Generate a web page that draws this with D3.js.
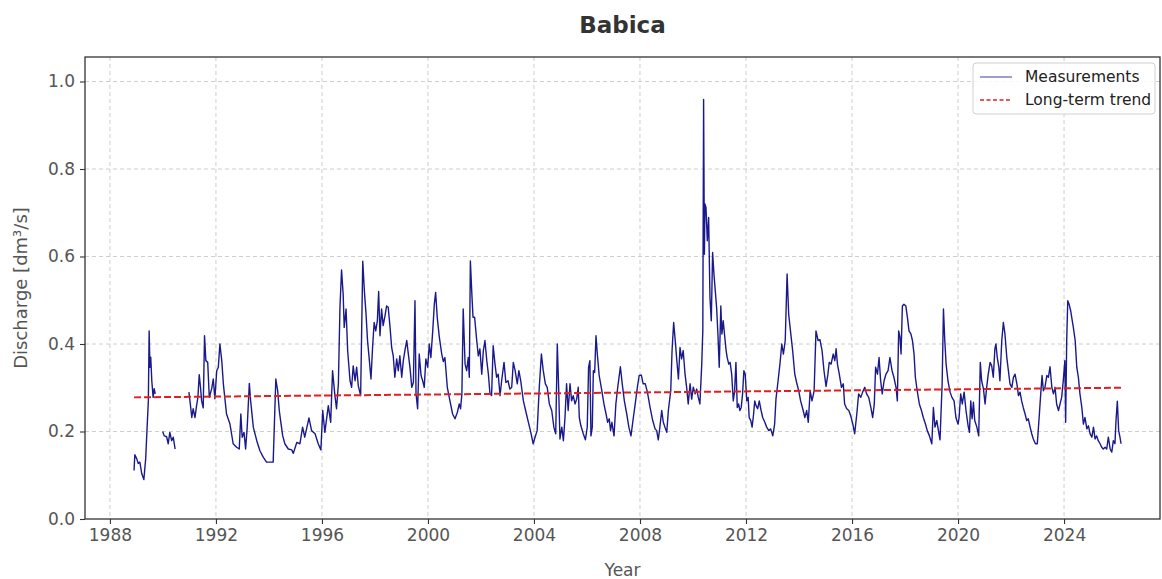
<!DOCTYPE html>
<html>
<head>
<meta charset="utf-8">
<script src="https://cdn.jsdelivr.net/npm/d3@7"></script>
<style>
  body { margin: 0; background: #fff; }
  svg { display: block; font-family: "DejaVu Sans", sans-serif; }
</style>
</head>
<body>
<svg id="chart" width="1162" height="579"></svg>
<script>
const chartTitle = "Babica";
const xLabel = "Year";
const yLabel = "Discharge [dm³/s]";
const legendLabels = ["Measurements", "Long-term trend"];

// decimal years; null marks a gap in the record
const years = [
  1988.91,1988.94,1989.01,1989.07,1989.13,1989.20,1989.28,1989.35,1989.38,1989.45,
  1989.48,1989.51,1989.54,1989.58,1989.63,1989.67,1989.71,
  1989.85,
  1989.99,1990.05,1990.14,1990.20,1990.26,1990.33,1990.39,1990.46,
  1990.70,
  1990.98,1991.02,1991.09,1991.14,1991.21,1991.27,1991.32,1991.37,1991.42,1991.46,
  1991.52,1991.57,1991.62,1991.69,1991.75,1991.84,1991.90,1991.96,1992.03,1992.09,
  1992.15,1992.22,1992.28,1992.40,1992.53,1992.65,1992.78,1992.88,1992.94,1992.99,
  1993.06,1993.12,1993.18,1993.26,1993.31,1993.41,1993.54,1993.66,1993.79,1993.91,
  1994.16,1994.26,1994.33,1994.39,1994.44,1994.52,1994.60,1994.73,1994.86,1994.92,
  1995.05,1995.17,1995.27,1995.35,1995.42,1995.51,1995.61,1995.74,1995.86,1995.96,
  1996.03,1996.11,1996.24,1996.33,1996.40,1996.49,1996.55,1996.62,1996.68,1996.74,
  1996.80,1996.84,1996.91,1996.97,1997.06,1997.12,1997.18,1997.25,1997.31,1997.37,
  1997.46,1997.54,1997.60,1997.66,1997.72,1997.78,1997.85,1997.91,1997.97,1998.03,
  1998.09,1998.14,1998.19,1998.25,1998.31,1998.38,1998.44,1998.50,1998.57,1998.63,
  1998.69,1998.75,1998.82,1998.88,1998.94,1999.01,1999.07,1999.13,1999.20,1999.26,
  1999.32,1999.39,1999.45,1999.51,1999.55,1999.61,1999.67,1999.74,1999.80,1999.86,
  1999.92,1999.99,2000.05,2000.11,2000.18,2000.24,2000.29,2000.35,2000.43,2000.52,
  2000.58,2000.64,2000.73,2000.83,2000.93,2001.02,2001.11,2001.18,2001.23,2001.28,
  2001.33,2001.40,2001.46,2001.52,2001.56,2001.60,2001.65,2001.70,2001.76,2001.84,
  2001.90,2001.96,2002.03,2002.09,2002.15,2002.22,2002.28,2002.34,2002.40,2002.46,
  2002.53,2002.59,2002.65,2002.72,2002.78,2002.87,2002.94,2003.02,2003.09,2003.16,
  2003.22,2003.29,2003.37,2003.43,2003.50,2003.60,2003.70,2003.79,2003.88,2003.97,
  2004.04,2004.12,2004.20,2004.28,2004.35,2004.43,2004.50,2004.58,2004.67,2004.75,
  2004.82,2004.88,2004.93,2004.98,2005.05,2005.11,2005.17,2005.23,2005.29,2005.36,
  2005.42,2005.48,2005.55,2005.61,2005.67,2005.71,2005.77,2005.86,2005.94,2006.01,
  2006.06,2006.11,2006.15,2006.20,2006.24,2006.29,2006.34,2006.39,2006.46,2006.55,
  2006.64,2006.72,2006.78,2006.84,2006.89,2006.94,2007.02,2007.09,2007.16,2007.26,
  2007.33,2007.41,2007.50,2007.58,2007.66,2007.75,2007.82,2007.90,2007.97,2008.05,
  2008.12,2008.20,2008.28,2008.38,2008.48,2008.57,2008.63,2008.69,2008.75,2008.82,
  2008.88,2008.94,2009.01,2009.07,2009.16,2009.21,2009.27,2009.33,2009.39,2009.45,
  2009.51,2009.57,2009.63,2009.70,2009.76,2009.82,2009.89,2009.95,2010.01,2010.08,
  2010.14,2010.20,2010.26,2010.33,2010.37,2010.40,2010.43,2010.45,2010.49,2010.54,
  2010.59,2010.64,2010.69,2010.74,2010.79,2010.84,2010.89,2010.94,2010.99,2011.05,
  2011.09,2011.14,2011.20,2011.25,2011.29,2011.35,2011.40,2011.46,2011.52,2011.57,
  2011.62,2011.67,2011.72,2011.77,2011.82,2011.87,2011.92,2011.97,2012.03,2012.08,
  2012.12,2012.18,2012.23,2012.28,2012.33,2012.38,2012.44,2012.50,2012.57,2012.63,
  2012.71,2012.78,2012.86,2012.93,2013.01,2013.08,2013.13,2013.21,2013.28,2013.35,
  2013.41,2013.48,2013.55,2013.61,2013.69,2013.76,2013.84,2013.91,2013.99,2014.06,
  2014.14,2014.22,2014.29,2014.35,2014.42,2014.49,2014.57,2014.64,2014.72,2014.79,
  2014.87,2014.94,2015.02,2015.09,2015.14,2015.21,2015.29,2015.35,2015.40,2015.45,
  2015.52,2015.60,2015.67,2015.72,2015.80,2015.88,2015.95,2016.03,2016.10,2016.18,
  2016.25,2016.33,2016.40,2016.48,2016.55,2016.63,2016.71,2016.78,2016.84,2016.89,
  2016.96,2017.02,2017.08,2017.14,2017.21,2017.28,2017.36,2017.43,2017.51,2017.58,
  2017.66,2017.71,2017.76,2017.81,2017.85,2017.90,2017.96,2018.03,2018.09,2018.15,
  2018.22,2018.28,2018.34,2018.39,2018.46,2018.54,2018.62,2018.69,2018.77,2018.84,
  2018.92,2019.01,2019.07,2019.13,2019.20,2019.26,2019.32,2019.40,2019.45,2019.50,
  2019.55,2019.62,2019.70,2019.77,2019.85,2019.92,2020.00,2020.04,2020.10,2020.16,
  2020.23,2020.30,2020.38,2020.43,2020.48,2020.53,2020.58,2020.63,2020.71,2020.78,
  2020.84,2020.89,2020.96,2021.02,2021.08,2021.14,2021.21,2021.27,2021.33,2021.39,
  2021.43,2021.48,2021.54,2021.58,2021.65,2021.71,2021.77,2021.84,2021.90,2021.96,
  2022.03,2022.09,2022.15,2022.22,2022.28,2022.34,2022.40,2022.46,2022.53,2022.59,
  2022.65,2022.72,2022.78,2022.84,2022.92,2022.99,2023.06,2023.12,2023.17,2023.22,
  2023.28,2023.35,2023.41,2023.47,2023.54,2023.60,2023.66,2023.72,2023.79,2023.85,
  2023.91,2023.97,2024.03,2024.06,2024.10,2024.14,2024.19,2024.25,2024.30,2024.35,
  2024.42,2024.48,2024.54,2024.60,2024.67,2024.73,2024.79,2024.86,2024.92,2024.98,
  2025.05,2025.11,2025.17,2025.23,2025.29,2025.36,2025.42,2025.48,2025.55,2025.61,
  2025.67,2025.74,2025.80,2025.86,2025.92,2025.96,2026.01,2026.06,2026.11,2026.15
];

const discharge = [
  .111,.147,.138,.127,.130,.104,.090,.138,.179,.270,
  .430,.347,.370,.316,.278,.298,.286,
  null,
  .200,.190,.188,.172,.198,.179,.187,.160,
  null,
  .290,.270,.232,.252,.232,.259,.278,.330,.300,.270,
  .254,.419,.362,.358,.278,.298,.320,.275,.339,.347,
  .400,.362,.309,.240,.217,.172,.164,.160,.240,.187,
  .198,.160,.210,.310,.270,.210,.179,.156,.141,.130,
  .130,.320,.293,.248,.225,.190,.172,.160,.158,.150,
  .175,.172,.210,.187,.206,.231,.202,.195,.172,.158,
  .248,.198,.259,.221,.339,.282,.252,.309,.484,.569,
  .514,.438,.480,.385,.316,.301,.350,.316,.347,.305,
  .282,.589,.522,.472,.408,.369,.320,.392,.449,.430,
  .453,.520,.419,.480,.442,.465,.487,.484,.438,.392,
  .373,.324,.366,.339,.373,.324,.362,.385,.408,.377,
  .347,.301,.312,.499,.286,.252,.377,.328,.316,.301,
  .366,.347,.400,.369,.430,.491,.518,.461,.415,.377,
  .360,.369,.301,.270,.240,.229,.244,.263,.252,.286,
  .480,.354,.339,.369,.324,.590,.522,.461,.461,.408,
  .373,.389,.331,.385,.408,.362,.331,.286,.282,.396,
  .354,.324,.331,.282,.316,.358,.312,.316,.297,.301,
  .358,.339,.309,.339,.316,.270,.244,.221,.198,.172,
  .187,.202,.301,.377,.339,.309,.301,.263,.248,.210,
  .195,.400,.301,.183,.210,.179,.232,.309,.248,.309,
  .270,.282,.263,.274,.301,.232,.213,.195,.181,.210,
  .347,.362,.190,.210,.339,.335,.419,.377,.328,.297,
  .263,.240,.221,.229,.202,.221,.190,.263,.301,.348,
  .309,.270,.240,.210,.190,.232,.263,.301,.328,.329,
  .309,.309,.290,.255,.225,.206,.202,.181,.210,.248,
  .221,.210,.198,.248,.293,.385,.449,.408,.362,.320,
  .392,.366,.385,.331,.301,.263,.309,.274,.301,.286,
  .297,.278,.263,.354,.430,.959,.605,.720,.712,.636,
  .689,.506,.453,.609,.560,.522,.484,.423,.347,.487,
  .423,.453,.415,.385,.369,.354,.358,.331,.270,.293,
  .358,.255,.263,.248,.255,.286,.339,.331,.270,.278,
  .232,.225,.210,.236,.270,.259,.252,.270,.248,.232,
  .221,.210,.202,.206,.190,.217,.274,.316,.354,.400,
  .377,.408,.560,.468,.423,.385,.331,.312,.293,.270,
  .252,.232,.248,.221,.293,.270,.293,.430,.408,.410,
  .385,.340,.303,.331,.358,.354,.377,.362,.389,.354,
  .331,.301,.309,.263,.252,.248,.236,.217,.195,.240,
  .286,.278,.290,.301,.286,.278,.255,.232,.263,.347,
  .331,.369,.316,.286,.316,.331,.339,.369,.339,.324,
  .301,.270,.430,.415,.377,.487,.491,.487,.461,.430,
  .423,.408,.377,.324,.293,.263,.248,.232,.217,.202,
  .190,.172,.255,.210,.225,.202,.181,.309,.480,.408,
  .354,.316,.290,.278,.270,.232,.217,.232,.286,.263,
  .290,.248,.213,.198,.270,.229,.267,.225,.210,.190,
  .358,.316,.297,.263,.301,.331,.358,.350,.324,.389,
  .400,.369,.347,.316,.408,.449,.423,.369,.339,.309,
  .301,.324,.331,.309,.282,.290,.270,.255,.240,.225,
  .229,.210,.195,.183,.172,.172,.232,.286,.328,.293,
  .301,.328,.324,.348,.301,.286,.301,.263,.248,.263,
  .278,.316,.362,.221,.408,.499,.491,.476,.457,.438,
  .408,.347,.324,.286,.255,.217,.232,.206,.213,.195,
  .187,.210,.183,.190,.179,.172,.164,.160,.164,.160,
  .187,.160,.153,.179,.172,.225,.269,.202,.187,.172
];

const trendYears = [1988.91, 2026.15];
const trendValues = [0.278, 0.300];

const xTicks = [1988, 1992, 1996, 2000, 2004, 2008, 2012, 2016, 2020, 2024];
const yTicks = [0, 0.2, 0.4, 0.6, 0.8, 1.0];

const W = 1162, H = 579;
const margin = {top: 57, right: 2, bottom: 60, left: 85};
const iw = W - margin.left - margin.right;
const ih = H - margin.top - margin.bottom;

const svg = d3.select("#chart");

const x = d3.scaleLinear().domain([1987.06, 2027.62]).range([0, iw]);
const y = d3.scaleLinear().domain([0, 1.056]).range([ih, 0]);

const g = svg.append("g")
    .attr("transform", `translate(${margin.left},${margin.top})`);

// grid
g.append("g")
    .selectAll("line")
    .data(xTicks)
    .join("line")
    .attr("x1", d => x(d)).attr("x2", d => x(d))
    .attr("y1", 0).attr("y2", ih)
    .attr("stroke", "#c8c8c8")
    .attr("stroke-width", 0.9)
    .attr("stroke-dasharray", "4,3");

g.append("g")
    .selectAll("line")
    .data(yTicks.filter(d => d > 0))
    .join("line")
    .attr("x1", 0).attr("x2", iw)
    .attr("y1", d => y(d)).attr("y2", d => y(d))
    .attr("stroke", "#c8c8c8")
    .attr("stroke-width", 0.9)
    .attr("stroke-dasharray", "4,3");

const points = years.map((t, i) => ({t: t, v: discharge[i]}));

const line = d3.line()
    .defined(d => d.v != null)
    .x(d => x(d.t))
    .y(d => y(d.v));

g.append("path")
    .datum(points)
    .attr("fill", "none")
    .attr("stroke", "#000080")
    .attr("stroke-opacity", 0.9)
    .attr("stroke-width", 1.4)
    .attr("stroke-linejoin", "round")
    .attr("d", line);

const trend = trendYears.map((t, i) => ({t: t, v: trendValues[i]}));

g.append("path")
    .datum(trend)
    .attr("fill", "none")
    .attr("stroke", "#e02020")
    .attr("stroke-width", 2)
    .attr("stroke-dasharray", "7,3")
    .attr("d", line);

// axes
const xAxis = g.append("g")
    .attr("transform", `translate(0,${ih})`)
    .call(d3.axisBottom(x).tickValues(xTicks).tickFormat(d3.format("d")).tickSize(5).tickPadding(5));

const yAxis = g.append("g")
    .call(d3.axisLeft(y).tickValues(yTicks).tickFormat(d3.format(".1f")).tickSize(5).tickPadding(5));

[xAxis, yAxis].forEach(a => {
  a.select(".domain").remove();
  a.selectAll(".tick line").attr("stroke", "#333").attr("stroke-width", 1.1);
  a.selectAll(".tick text")
      .attr("fill", "#555")
      .style("font-family", "DejaVu Sans, sans-serif")
      .style("font-size", "17px");
});

// frame
g.append("rect")
    .attr("x", 0).attr("y", 0)
    .attr("width", iw).attr("height", ih)
    .attr("fill", "none")
    .attr("stroke", "#333")
    .attr("stroke-width", 1.3);

// titles
svg.append("text")
    .attr("x", margin.left + iw / 2)
    .attr("y", 33)
    .attr("text-anchor", "middle")
    .attr("fill", "#333")
    .style("font-size", "23px")
    .style("font-weight", "bold")
    .text(chartTitle);

svg.append("text")
    .attr("x", margin.left + iw / 2)
    .attr("y", 576)
    .attr("text-anchor", "middle")
    .attr("fill", "#555")
    .style("font-size", "17px")
    .text(xLabel);

svg.append("text")
    .attr("transform", `translate(27,${margin.top + ih / 2}) rotate(-90)`)
    .attr("text-anchor", "middle")
    .attr("fill", "#555")
    .style("font-size", "18px")
    .text(yLabel);

// legend
const lg = g.append("g").attr("transform", `translate(${iw - 187},6)`);
lg.append("rect")
    .attr("width", 182).attr("height", 51)
    .attr("rx", 3)
    .attr("fill", "#fff")
    .attr("fill-opacity", 0.85)
    .attr("stroke", "#d0d0d0");

const legendStyles = [
  {stroke: "#000080", opacity: 0.6, width: 1.3, dash: null},
  {stroke: "#e02020", opacity: 1, width: 1.6, dash: "4,2.5"}
];

legendLabels.forEach((lab, i) => {
  const yy = 14 + i * 23;
  lg.append("line")
      .attr("x1", 7).attr("x2", 39)
      .attr("y1", yy).attr("y2", yy)
      .attr("stroke", legendStyles[i].stroke)
      .attr("stroke-opacity", legendStyles[i].opacity)
      .attr("stroke-width", legendStyles[i].width)
      .attr("stroke-dasharray", legendStyles[i].dash);
  lg.append("text")
      .attr("x", 52).attr("y", yy)
      .attr("dy", "0.35em")
      .attr("fill", "#222")
      .style("font-size", "15.5px")
      .text(lab);
});
</script>
</body>
</html>
